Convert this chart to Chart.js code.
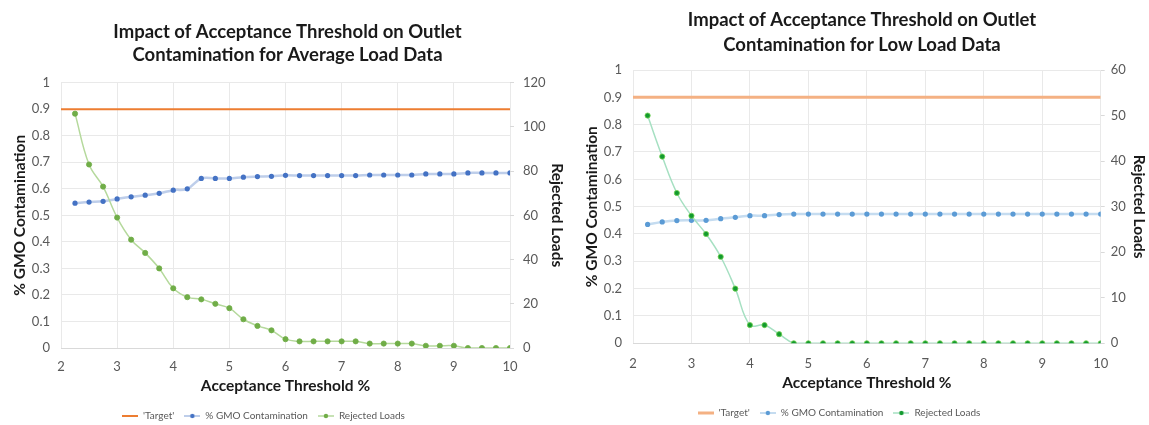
<!DOCTYPE html>
<html>
<head>
<meta charset="utf-8">
<script src="https://cdn.jsdelivr.net/npm/chart.js"></script>
<style>
  html, body { margin: 0; padding: 0; background: #fff; }
  .panel { position: absolute; top: 0; }
</style>
</head>
<body>
<div class="panel" style="left:0"><canvas id="avgChart" width="575" height="425"></canvas></div>
<div class="panel" style="left:575px"><canvas id="lowChart" width="574" height="425"></canvas></div>
<script>
// --- Datos ---
const thresholds = [2.25, 2.5, 2.75, 3, 3.25, 3.5, 3.75, 4, 4.25, 4.5, 4.75, 5, 5.25, 5.5, 5.75, 6,
  6.25, 6.5, 6.75, 7, 7.25, 7.5, 7.75, 8, 8.25, 8.5, 8.75, 9, 9.25, 9.5, 9.75, 10];
const xRange = [2, 10];
const targetLevel = 0.9;

// Carga promedio
const avgGmo = [0.546, 0.550, 0.553, 0.562, 0.570, 0.576, 0.583, 0.595, 0.600, 0.639, 0.639, 0.639,
  0.644, 0.646, 0.647, 0.651, 0.650, 0.650, 0.650, 0.650, 0.650, 0.652, 0.652, 0.652, 0.652,
  0.656, 0.656, 0.656, 0.660, 0.660, 0.660, 0.660];
const avgRejected = [106, 83, 73, 59, 49, 43, 36, 27, 23, 22, 20, 18, 13, 10, 8, 4,
  3, 3, 3, 3, 3, 2, 2, 2, 2, 1, 1, 1, 0, 0, 0, 0];

// Carga baja
const lowGmo = [0.435, 0.444, 0.449, 0.450, 0.450, 0.456, 0.461, 0.467, 0.467, 0.471, 0.473,
  0.473, 0.473, 0.473, 0.473, 0.473, 0.473, 0.473, 0.473, 0.473, 0.473, 0.473, 0.473, 0.473,
  0.473, 0.473, 0.473, 0.473, 0.473, 0.473, 0.473, 0.473];
const lowRejected = [50, 41, 33, 28, 24, 19, 12, 4, 4, 2, 0,
  0, 0, 0, 0, 0, 0, 0, 0, 0, 0, 0, 0, 0, 0, 0, 0, 0, 0, 0, 0, 0];

const legendLabels = ["'Target'", "% GMO Contamination", "Rejected Loads"];

// --- Estilos ---
const fontFamily = "Lato, 'Open Sans', sans-serif";
const tickColor = "#595959";
const gridColor = "#e9e9e9";

function toPoints(values) {
  return thresholds.map((t, i) => ({ x: t, y: values[i] }));
}

// Icono de leyenda: línea con punto en el centro
function legendIcon(lineColor, lineWidth, dotColor) {
  const c = document.createElement("canvas");
  c.width = 16;
  c.height = 8;
  const g = c.getContext("2d");
  g.strokeStyle = lineColor;
  g.lineWidth = lineWidth;
  g.beginPath();
  g.moveTo(0, 4);
  g.lineTo(16, 4);
  g.stroke();
  if (dotColor) {
    g.fillStyle = dotColor;
    g.beginPath();
    g.arc(8, 4, 2.2, 0, Math.PI * 2);
    g.fill();
  }
  return c;
}

// Desplaza la leyenda a la izquierda
const legendShift = {
  id: "legendShift",
  afterLayout(chart, args, opts) {
    if (chart.legend) {
      chart.legend.left -= opts.dx;
      chart.legend.right -= opts.dx;
    }
  },
};

function buildChart(canvasId, cfg) {
  const ctx = document.getElementById(canvasId).getContext("2d");
  const icons = [
    legendIcon(cfg.targetColor, cfg.targetWidth, null),
    legendIcon(cfg.gmoLine, 2, cfg.gmoPoint),
    legendIcon(cfg.rejLine, 1.5, cfg.rejPoint),
  ];

  return new Chart(ctx, {
    type: "line",
    data: {
      datasets: [
        {
          label: legendLabels[0],
          data: [{ x: xRange[0], y: targetLevel }, { x: xRange[1], y: targetLevel }],
          borderColor: cfg.targetColor,
          borderWidth: cfg.targetWidth,
          pointRadius: 0,
          yAxisID: "y",
          order: 3,
        },
        {
          label: legendLabels[1],
          data: toPoints(cfg.gmo),
          borderColor: cfg.gmoLine,
          borderWidth: 2.5,
          pointRadius: 2.6,
          pointBackgroundColor: cfg.gmoPoint,
          pointBorderColor: cfg.gmoPoint,
          pointBorderWidth: 0,
          tension: 0.4,
          yAxisID: "y",
          order: 2,
        },
        {
          label: legendLabels[2],
          data: toPoints(cfg.rejected),
          borderColor: cfg.rejLine,
          borderWidth: 1.5,
          pointRadius: 2.6,
          pointBackgroundColor: cfg.rejPoint,
          pointBorderColor: cfg.rejPointBorder,
          pointBorderWidth: 0.8,
          tension: 0.4,
          yAxisID: "y1",
          order: 1,
        },
      ],
    },
    options: {
      responsive: false,
      animation: false,
      layout: { padding: { left: 0, right: 0, top: 0, bottom: cfg.padBottom } },
      plugins: {
        title: {
          display: true,
          text: ["Impact of Acceptance Threshold on Outlet", cfg.title2],
          color: "#1a1a1a",
          font: { family: fontFamily, size: 18.5, weight: "bold", lineHeight: cfg.titleLH },
          padding: { top: cfg.titleTop, bottom: cfg.titleBottom },
        },
        legend: {
          display: true,
          position: "bottom",
          maxHeight: 20,
          labels: {
            color: tickColor,
            font: { family: fontFamily, size: 10 },
            usePointStyle: true,
            pointStyleWidth: 16,
            boxHeight: 8,
            padding: 10,
            sort: (a, b) => a.datasetIndex - b.datasetIndex,
            generateLabels: (chart) =>
              Chart.defaults.plugins.legend.labels
                .generateLabels(chart)
                .map((item) => ({ ...item, pointStyle: icons[item.datasetIndex] })),
          },
        },
        tooltip: { enabled: false },
        legendShift: { dx: cfg.legendDx },
      },
      scales: {
        x: {
          type: "linear",
          min: xRange[0],
          max: xRange[1],
          ticks: {
            stepSize: 1,
            color: tickColor,
            padding: cfg.xTickPad,
            font: { family: fontFamily, size: 13 },
          },
          grid: { color: gridColor, drawTicks: false },
          border: { color: "#d9d9d9" },
          title: {
            display: true,
            text: "Acceptance Threshold %",
            color: "#1a1a1a",
            font: { family: fontFamily, size: 15.5, weight: "bold" },
            padding: { top: 0, bottom: cfg.xTitlePad },
          },
          afterFit: (scale) => { scale.height = cfg.xHeight; },
        },
        y: {
          position: "left",
          min: 0,
          max: 1,
          ticks: {
            stepSize: 0.1,
            color: tickColor,
            padding: cfg.yTickPad,
            font: { family: fontFamily, size: 13 },
            callback: (v) => String(Number(v.toFixed(1))),
          },
          grid: { color: gridColor, drawTicks: false },
          border: { display: false },
          title: {
            display: true,
            text: "% GMO Contamination",
            color: "#1a1a1a",
            font: { family: fontFamily, size: 15.5, weight: "bold" },
            padding: { top: cfg.yTitlePad, bottom: 0 },
          },
          afterFit: (scale) => { scale.width = cfg.yWidth; },
        },
        y1: {
          position: "right",
          min: 0,
          max: cfg.y1Max,
          ticks: {
            stepSize: cfg.y1Step,
            color: tickColor,
            padding: cfg.y1TickPad,
            font: { family: fontFamily, size: 13 },
          },
          grid: { drawOnChartArea: false, color: "#d9d9d9", tickLength: 4 },
          border: { display: false },
          title: {
            display: true,
            text: "Rejected Loads",
            color: "#1a1a1a",
            font: { family: fontFamily, size: 15.5, weight: "bold" },
            padding: { top: cfg.y1TitlePad, bottom: 0 },
          },
          afterFit: (scale) => { scale.width = cfg.y1Width; },
        },
      },
    },
    plugins: [legendShift],
  });
}

// Gráfico de carga promedio
buildChart("avgChart", {
  title2: "Contamination for Average Load Data",
  gmo: avgGmo,
  rejected: avgRejected,
  y1Max: 120,
  y1Step: 20,
  targetColor: "#ed7d31",
  targetWidth: 2,
  gmoLine: "rgba(68, 114, 196, 0.35)",
  gmoPoint: "#4472c4",
  rejLine: "#b5d99c",
  rejPoint: "#70ad47",
  rejPointBorder: "#70ad47",
  titleLH: 23 / 18.5,
  titleTop: 21,
  titleBottom: 15.7,
  xHeight: 53,
  xTickPad: 11,
  xTitlePad: 5.7,
  yWidth: 61,
  yTickPad: 11,
  yTitlePad: 11,
  y1Width: 65,
  y1TickPad: 9,
  y1TitlePad: 9,
  padBottom: 4,
  legendDx: 24,
});

// Gráfico de carga baja
buildChart("lowChart", {
  title2: "Contamination for Low Load Data",
  gmo: lowGmo,
  rejected: lowRejected,
  y1Max: 60,
  y1Step: 10,
  targetColor: "#f4b183",
  targetWidth: 3,
  gmoLine: "#c5dcf0",
  gmoPoint: "#5b9bd5",
  rejLine: "#a6e0c2",
  rejPoint: "#139a2f",
  rejPointBorder: "#6fd04c",
  titleLH: 25 / 18.5,
  titleTop: 7.5,
  titleBottom: 12.5,
  xHeight: 54.7,
  xTickPad: 13,
  xTitlePad: 5.7,
  yWidth: 58,
  yTickPad: 11,
  yTitlePad: 8,
  y1Width: 48.3,
  y1TickPad: 6,
  y1TitlePad: 1,
  padBottom: 7,
  legendDx: 23,
});
</script>
</body>
</html>
